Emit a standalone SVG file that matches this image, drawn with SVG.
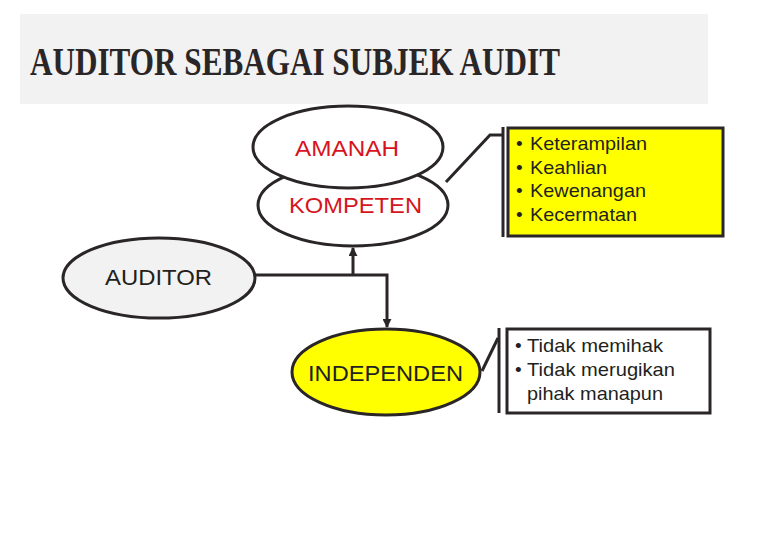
<svg xmlns="http://www.w3.org/2000/svg" width="780" height="540" viewBox="0 0 780 540">
<style>
.ln{fill:none;stroke:#2a2627;stroke-width:3}
.el{stroke:#2a2627;stroke-width:3}
.t{font-family:"Liberation Sans",Arial,sans-serif;font-size:22px}
.b{font-family:"Liberation Sans",Arial,sans-serif;font-size:19px;fill:#231f20}
</style>
<defs>
<marker id="ah" viewBox="0 0 10 10" refX="9" refY="5" markerWidth="3" markerHeight="3" orient="auto" markerUnits="strokeWidth">
<path d="M0,0 L10,5 L0,10 z" fill="#2a2627"/>
</marker>
</defs>
<rect x="20" y="14" width="688" height="90" fill="#f2f2f2"/>
<text x="30" y="75" font-family="'Liberation Serif',serif" font-weight="bold" font-size="39" fill="#2a2627" textLength="530" lengthAdjust="spacingAndGlyphs">AUDITOR SEBAGAI SUBJEK AUDIT</text>
<g id="connectors">
<polyline class="ln" points="446,182 490,135 503,135"/>
<line class="ln" x1="503" y1="127" x2="503" y2="237" stroke-width="4"/>
<polyline class="ln" points="482,371 498,338"/>
<line class="ln" x1="499" y1="328" x2="499" y2="413" stroke-width="4"/>
<polyline class="ln" points="255,275 387,275 387,327" marker-end="url(#ah)"/>
<line class="ln" x1="353" y1="275" x2="353" y2="248" marker-end="url(#ah)"/>
</g>
<g id="kompeten">
<ellipse class="el" cx="353" cy="205" rx="95" ry="41" fill="#ffffff"/>
<text class="t" x="289" y="213" fill="#d7141d" textLength="133" lengthAdjust="spacingAndGlyphs">KOMPETEN</text>
</g>
<g id="amanah">
<ellipse class="el" cx="348" cy="147" rx="95" ry="41" fill="#ffffff"/>
<text class="t" x="295" y="156" fill="#d7141d" textLength="104" lengthAdjust="spacingAndGlyphs">AMANAH</text>
</g>
<g id="auditor">
<ellipse class="el" cx="159" cy="278" rx="96" ry="40" fill="#f2f2f2"/>
<text class="t" x="105" y="285" fill="#231f20" textLength="107" lengthAdjust="spacingAndGlyphs">AUDITOR</text>
</g>
<g id="independen">
<ellipse class="el" cx="386" cy="372" rx="94" ry="43" fill="#ffff00"/>
<text class="t" x="308" y="381" fill="#231f20" textLength="155" lengthAdjust="spacingAndGlyphs">INDEPENDEN</text>
</g>
<g id="box-kompeten">
<rect class="el" x="508" y="128" width="215" height="108" fill="#ffff00"/>
<text class="b" x="516" y="150">•</text>
<text class="b" x="530" y="150" textLength="117" lengthAdjust="spacingAndGlyphs">Keterampilan</text>
<text class="b" x="516" y="174">•</text>
<text class="b" x="530" y="174" textLength="77" lengthAdjust="spacingAndGlyphs">Keahlian</text>
<text class="b" x="516" y="197">•</text>
<text class="b" x="530" y="197" textLength="116" lengthAdjust="spacingAndGlyphs">Kewenangan</text>
<text class="b" x="516" y="221">•</text>
<text class="b" x="530" y="221" textLength="107" lengthAdjust="spacingAndGlyphs">Kecermatan</text>
</g>
<g id="box-independen">
<rect class="el" x="507" y="329" width="203" height="84" fill="#ffffff"/>
<text class="b" x="515" y="352">•</text>
<text class="b" x="527" y="352" textLength="136" lengthAdjust="spacingAndGlyphs">Tidak memihak</text>
<text class="b" x="515" y="376">•</text>
<text class="b" x="527" y="376" textLength="148" lengthAdjust="spacingAndGlyphs">Tidak merugikan</text>
<text class="b" x="527" y="400" textLength="136" lengthAdjust="spacingAndGlyphs">pihak manapun</text>
</g>
</svg>
